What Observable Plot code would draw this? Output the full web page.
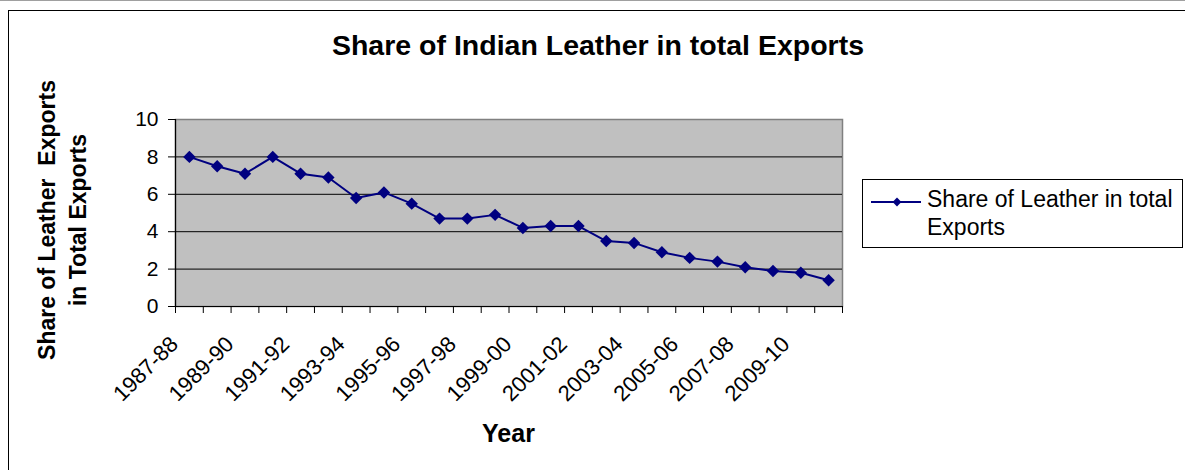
<!DOCTYPE html>
<html>
<head>
<meta charset="utf-8">
<script src="https://cdn.jsdelivr.net/npm/d3@7"></script>
<script src="https://cdn.jsdelivr.net/npm/@observablehq/plot@0.6"></script>
<style>
  html, body { margin: 0; padding: 0; background: #fff; }
  #chart { width: 1185px; height: 470px; position: relative; }
  #chart svg { display: block; }
</style>
</head>
<body>
<div id="chart"></div>
<script>
// Fiscal years on the category axis
const years = [
  "1987-88", "1988-89", "1989-90", "1990-91", "1991-92", "1992-93",
  "1993-94", "1994-95", "1995-96", "1996-97", "1997-98", "1998-99",
  "1999-00", "2000-01", "2001-02", "2002-03", "2003-04", "2004-05",
  "2005-06", "2006-07", "2007-08", "2008-09", "2009-10", "2010-11"
];
// Share of leather in India's total exports (%)
const shares = [
  8.0, 7.5, 7.1, 8.0, 7.1, 6.9,
  5.8, 6.1, 5.5, 4.7, 4.7, 4.9,
  4.2, 4.3, 4.3, 3.5, 3.4, 2.9,
  2.6, 2.4, 2.1, 1.9, 1.8, 1.4
];
// Category labels printed under the axis (every second year)
const labeledYears = [
  "1987-88", "1989-90", "1991-92", "1993-94", "1995-96", "1997-98",
  "1999-00", "2001-02", "2003-04", "2005-06", "2007-08", "2009-10"
];
const yTicks = [0, 2, 4, 6, 8, 10];
const gridValues = [2, 4, 6, 8];

const title = "Share of Indian Leather in total Exports";
const yTitle = ["Share of Leather  Exports", "in Total Exports"];
const xTitle = "Year";
const seriesName = ["Share of Leather in total", "Exports"];

const navy = "#000080";
const font = "'Liberation Sans', Arial, sans-serif";

const rows = years.map((year, i) => ({ i, year, share: shares[i] }));
// category boundaries carry the tick marks; labels sit at category centres
const boundaries = d3.range(years.length + 1).map(k => k - 0.5);
const labelIdx = labeledYears.map(y => years.indexOf(y));

const chart = Plot.plot({
  width: 1185,
  height: 470,
  marginLeft: 175,
  marginRight: 343,
  marginTop: 119,
  marginBottom: 164,
  style: { fontFamily: font, fontSize: "21px", color: "#000", background: "transparent", overflow: "visible" },
  x: { type: "linear", domain: [-0.5, years.length - 0.5] },
  y: { domain: [0, 10] },
  marks: [
    Plot.frame({ fill: "#c0c0c0", stroke: "#808080", strokeWidth: 1.5 }),
    Plot.ruleY(gridValues, { stroke: "#000", strokeWidth: 1 }),
    Plot.ruleY([0], { stroke: "#000", strokeWidth: 1.2 }),
    Plot.ruleX([-0.5], { stroke: "#000", strokeWidth: 1.2 }),
    Plot.axisY(yTicks, { tickSize: 7, tickPadding: 10, stroke: "#000", fill: "#000", fontSize: 21, label: null }),
    Plot.axisX(boundaries, { tickSize: 7, stroke: "#000", text: null, label: null }),
    Plot.axisX(labelIdx, {
      tickSize: 0, tickPadding: 34, tickRotate: -45, fill: "#000", fontSize: 22,
      dx: -15, dy: 0,
      tickFormat: i => years[i], label: null
    }),
    Plot.line(rows, { x: "i", y: "share", stroke: navy, strokeWidth: 2 }),
    Plot.dot(rows, { x: "i", y: "share", symbol: "diamond2", r: 5.6, fill: navy, stroke: "none" })
  ]
});

document.getElementById("chart").append(chart);

// titles, outer border and legend
const svg = d3.select(chart);
const deco = svg.append("g").attr("font-family", font).attr("fill", "#000")
  .attr("text-anchor", "start");

deco.append("line").attr("x1", 0).attr("x2", 1185).attr("y1", 0.5).attr("y2", 0.5)
  .attr("stroke", "#a0a0a0");
deco.append("line").attr("x1", 8).attr("x2", 1185).attr("y1", 10.5).attr("y2", 10.5)
  .attr("stroke", "#000");
deco.append("line").attr("x1", 8.5).attr("x2", 8.5).attr("y1", 10).attr("y2", 470)
  .attr("stroke", "#000");

deco.append("text").attr("x", 598).attr("y", 54.5).attr("text-anchor", "middle")
  .attr("font-size", 28.5).attr("font-weight", "bold").text(title);

yTitle.forEach((t, k) => {
  deco.append("text")
    .attr("transform", `translate(${55 + k * 31},220) rotate(-90)`)
    .attr("text-anchor", "middle").attr("font-size", 23).attr("font-weight", "bold")
    .attr("xml:space", "preserve").style("white-space", "pre")
    .text(t);
});

deco.append("text").attr("x", 508.5).attr("y", 442).attr("text-anchor", "middle")
  .attr("font-size", 25).attr("font-weight", "bold").text(xTitle);

const legend = deco.append("g");
legend.append("rect").attr("x", 862.5).attr("y", 179.5).attr("width", 320).attr("height", 68)
  .attr("fill", "#fff").attr("stroke", "#000");
legend.append("line").attr("x1", 871).attr("x2", 921).attr("y1", 202).attr("y2", 202)
  .attr("stroke", navy).attr("stroke-width", 2);
legend.append("path").attr("d", d3.symbol(d3.symbolDiamond2, 50)())
  .attr("transform", "translate(897,202)").attr("fill", navy);
seriesName.forEach((t, k) => {
  legend.append("text").attr("x", 927).attr("y", 207 + k * 28)
    .attr("text-anchor", "start").attr("font-size", 23).text(t);
});
</script>
</body>
</html>
